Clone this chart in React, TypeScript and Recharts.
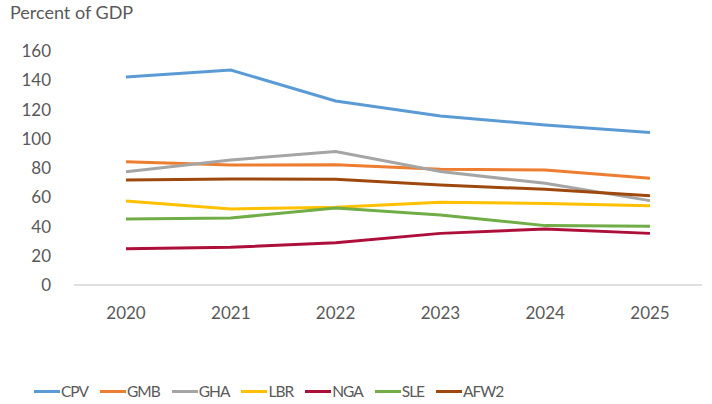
import React from "react";
import { LineChart, Line, XAxis, YAxis } from "recharts";

const years = ["2020", "2021", "2022", "2023", "2024", "2025"];
const yTicks = [0, 20, 40, 60, 80, 100, 120, 140, 160];

const cpv = [142.2, 147, 125.8, 115.6, 109.4, 104.3];
const gmb = [84.3, 82, 82.3, 79.1, 78.6, 73];
const gha = [77.5, 85.5, 91.2, 77.6, 69.5, 57.7];
const lbr = [57.4, 52, 53.1, 56.5, 55.8, 54.2];
const nga = [24.8, 25.8, 28.9, 35.3, 38.3, 35.3];
const sle = [45.1, 45.8, 52.6, 47.9, 40.6, 40.1];
const afw2 = [71.8, 72.5, 72.3, 68.4, 65.4, 61.1];

const series = [
  { key: "CPV", values: cpv, color: "#5B9BD5" },
  { key: "GMB", values: gmb, color: "#ED7D31" },
  { key: "GHA", values: gha, color: "#A5A5A5" },
  { key: "LBR", values: lbr, color: "#FFC000" },
  { key: "NGA", values: nga, color: "#AE0F3A" },
  { key: "SLE", values: sle, color: "#70AD47" },
  { key: "AFW2", values: afw2, color: "#9E480E" },
];

const data = years.map((year, i) => {
  const row: Record<string, string | number> = { year };
  series.forEach((s) => {
    row[s.key] = s.values[i];
  });
  return row;
});

const font = "Lato, 'Open Sans', sans-serif";
const textColor = "#595959";

// legend sits under the plot, a bit left of centre like the source
function LegendRow() {
  return (
    <div
      style={{
        position: "absolute",
        left: 34,
        top: 382,
        display: "flex",
        gap: 12,
        fontFamily: font,
        fontSize: 15.5,
        letterSpacing: -1,
        color: textColor,
      }}
    >
      {series.map((s) => (
        <div key={s.key} style={{ display: "flex", alignItems: "center" }}>
          <span
            style={{
              display: "inline-block",
              width: 26,
              height: 3,
              background: s.color,
              marginRight: 1,
            }}
          />
          <span>{s.key}</span>
        </div>
      ))}
    </div>
  );
}

export default function App() {
  return (
    <div
      style={{
        position: "absolute",
        left: 0,
        top: 0,
        width: 712,
        height: 404,
        background: "#fff",
      }}
    >
      <div
        style={{
          position: "absolute",
          left: 10,
          top: 1,
          fontFamily: font,
          fontSize: 18,
          color: textColor,
        }}
      >
        Percent of GDP
      </div>
      <LineChart
        width={712}
        height={404}
        data={data}
        margin={{ top: 51, right: 10, left: 0, bottom: 79 }}
      >
        <XAxis
          dataKey="year"
          height={40}
          padding={{ left: 52, right: 52 }}
          tickLine={false}
          tickMargin={16}
          axisLine={{ stroke: "#BFBFBF", strokeWidth: 1 }}
          tick={{ fill: textColor, fontSize: 17, fontFamily: font }}
        />
        <YAxis
          width={74}
          domain={[0, 160]}
          ticks={yTicks}
          interval={0}
          axisLine={false}
          tickLine={false}
          tickMargin={17}
          tick={{ fill: textColor, fontSize: 17, fontFamily: font }}
        />
        {series.map((s) => (
          <Line
            key={s.key}
            dataKey={s.key}
            stroke={s.color}
            strokeWidth={3}
            dot={false}
            type="linear"
            isAnimationActive={false}
          />
        ))}
      </LineChart>
      <LegendRow />
    </div>
  );
}
